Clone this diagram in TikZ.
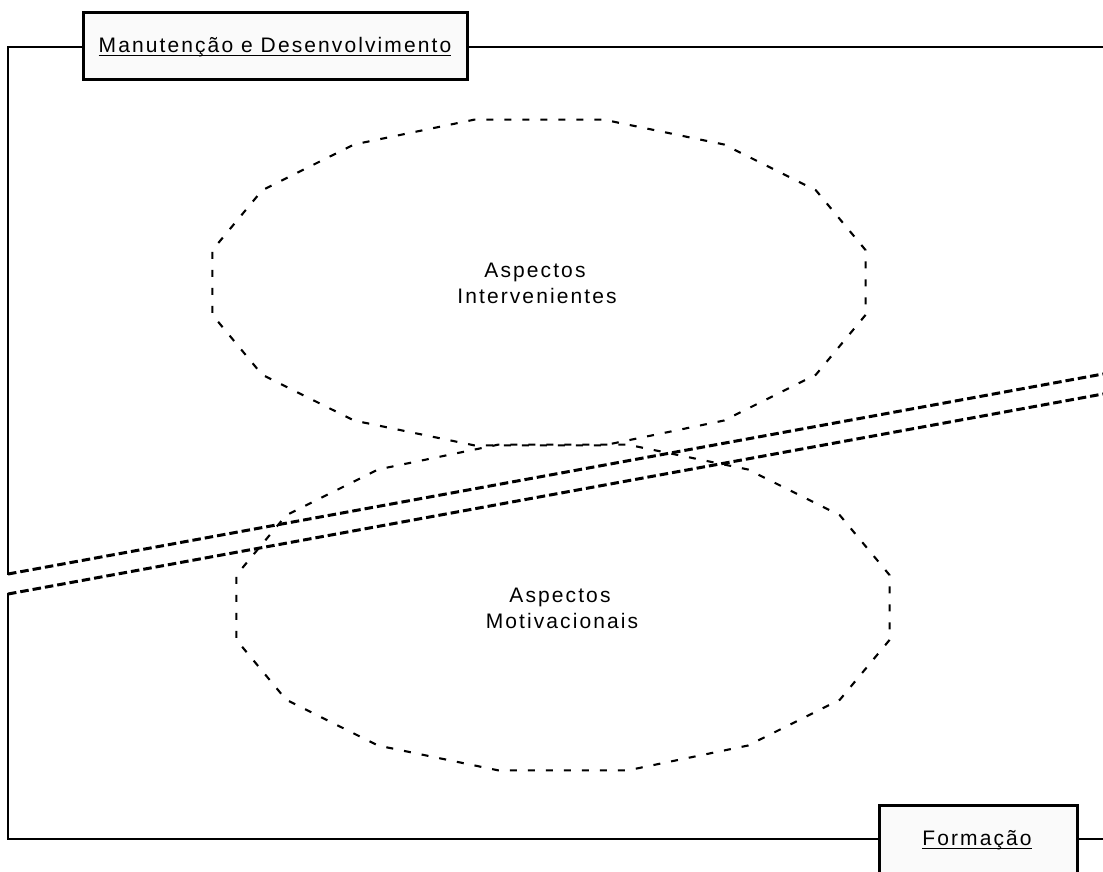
\documentclass[tikz,border=0pt]{standalone}
\usepackage{fontspec}
\setmainfont{Liberation Sans}[LetterSpace=10]
\begin{document}
\begin{tikzpicture}[x=1pt,y=-1pt,
  frameline/.style={line width=1.3pt, line cap=rect},
  boundary/.style={line width=3pt, dash pattern=on 8.5pt off 4pt},
  ovaldash/.style={line width=2.1pt, dash pattern=on 7pt off 11pt},
  labelbox/.style={draw, line width=3pt, fill=black!2, inner sep=0pt},
  labeltext/.style={inner sep=0pt, anchor=base, font=\fontsize{21}{25}\selectfont},
  areatext/.style={inner sep=0pt, anchor=base, font=\fontsize{21}{25}\selectfont},
  underl/.style={line width=1.3pt}]
\useasboundingbox (0,0) rectangle (1103,872);

% outer frame
\coordinate (ne) at (1103,47);
\coordinate (nw) at (8,47);
\coordinate (bl1) at (8,574);
\coordinate (bl2) at (8,594);
\coordinate (br1) at (1103,374);
\coordinate (br2) at (1103,394);
\coordinate (sw) at (8,839);
\coordinate (se) at (1103,839);
\draw[frameline] (ne) -- (nw) -- (bl1);
\draw[frameline] (bl2) -- (sw) -- (se);

% the dashed double boundary
\draw[boundary] (bl1) -- (br1);
\draw[boundary] (bl2) -- (br2);

% two dashed ovals (16-gons)
\draw[ovaldash] ({539+333*cos(11.25)},{282.5+166*sin(11.25)})
  \foreach \a in {33.75,56.25,...,350} { -- ({539+333*cos(\a)},{282.5+166*sin(\a)}) } -- cycle;
\draw[ovaldash] ({563+333*cos(11.25)},{607.5+166*sin(11.25)})
  \foreach \a in {33.75,56.25,...,350} { -- ({563+333*cos(\a)},{607.5+166*sin(\a)}) } -- cycle;

\node[areatext] (i1) at (535,277) {Aspectos};
\node[areatext] (i2) at (537,303) {Intervenientes};
\node[areatext] (m1) at (560,602) {Aspectos};
\node[areatext] (m2) at (562,628) {Motivacionais};

% label boxes
\node[labelbox, minimum width=384pt, minimum height=67pt] (mbox) at (275,46.5) {};
\node[labeltext] (mtxt) at (275,53) {Manutenção e Desenvolvimento};
\draw[underl] ([yshift=-2.5pt]mtxt.base west) -- ([yshift=-2.5pt]mtxt.base east);

\node[labelbox, minimum width=198pt, minimum height=68pt] (fbox) at (978,839) {};
\node[labeltext] (ftxt) at (977,845) {Formação};
\draw[underl] ([yshift=-3.5pt]ftxt.base west) -- ([yshift=-3.5pt]ftxt.base east);
\end{tikzpicture}
\end{document}
